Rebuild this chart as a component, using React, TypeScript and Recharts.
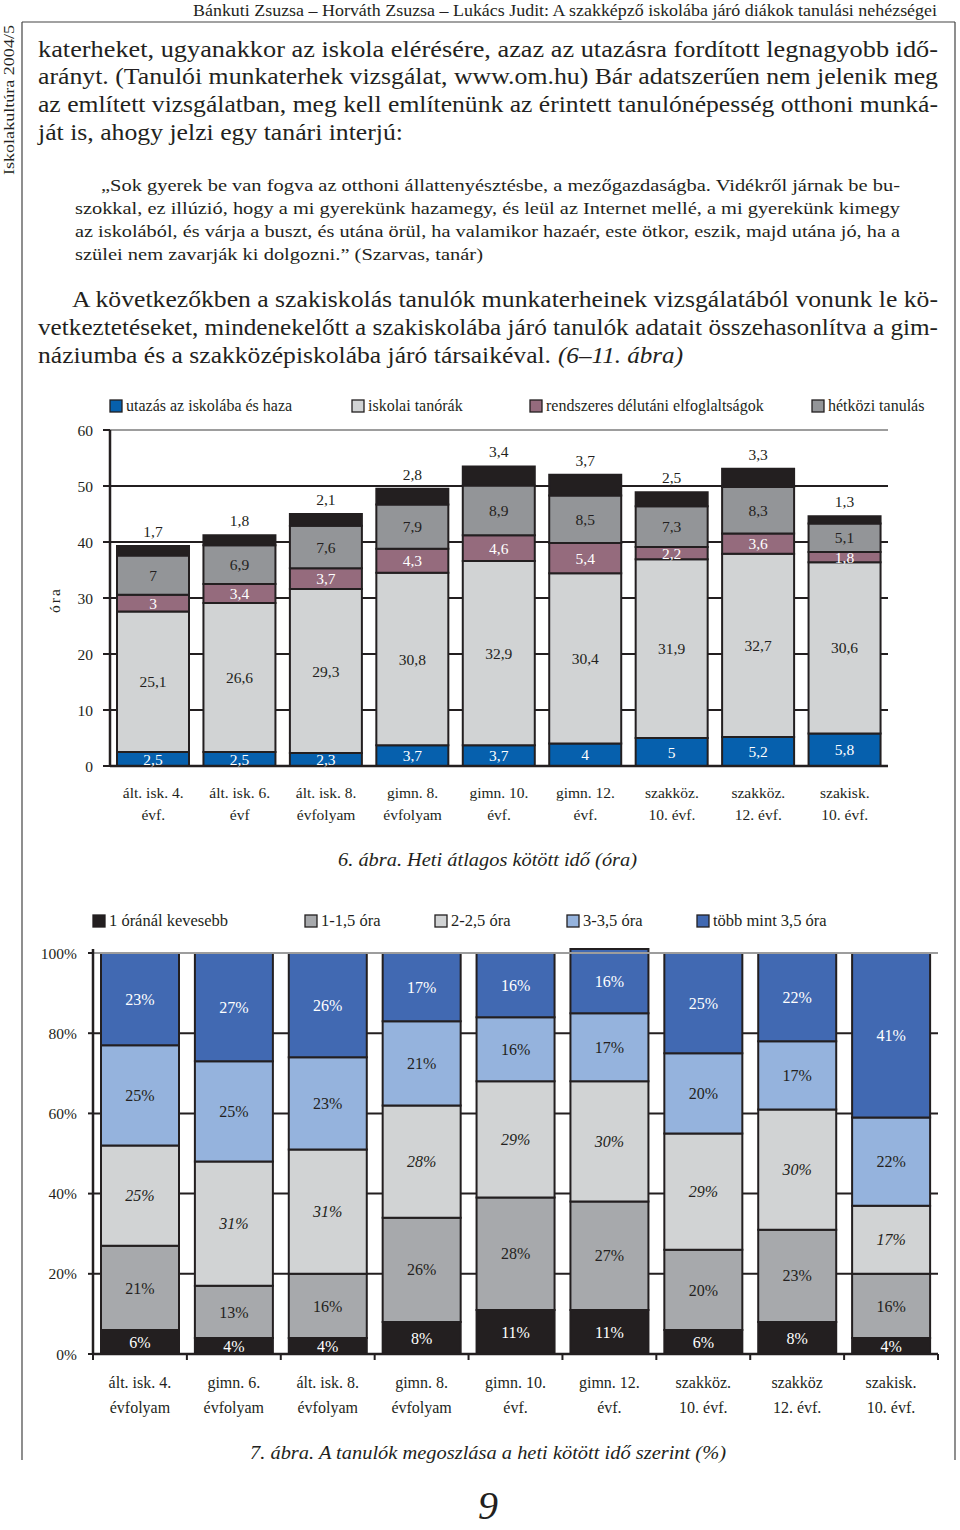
import React from "react";
import {
  BarChart,
  Bar,
  XAxis,
  YAxis,
  CartesianGrid,
  LabelList,
  ReferenceLine,
} from "recharts";

const SERIF = '"Liberation Serif", "Times New Roman", Times, serif';
const INK = "#231f20";
const BORDER = "#9d9d9d";

// 6. ábra – heti átlagos kötött idő (óra)
const kat6 = [
  "ált. isk. 4.|évf.",
  "ált. isk. 6.|évf",
  "ált. isk. 8.|évfolyam",
  "gimn. 8.|évfolyam",
  "gimn. 10.|évf.",
  "gimn. 12.|évf.",
  "szakköz.|10. évf.",
  "szakköz.|12. évf.",
  "szakisk.|10. évf.",
];
const utazas = [2.5, 2.5, 2.3, 3.7, 3.7, 4, 5, 5.2, 5.8];
const tanorak = [25.1, 26.6, 29.3, 30.8, 32.9, 30.4, 31.9, 32.7, 30.6];
const delutani = [3, 3.4, 3.7, 4.3, 4.6, 5.4, 2.2, 3.6, 1.8];
const hetkozi = [7, 6.9, 7.6, 7.9, 8.9, 8.5, 7.3, 8.3, 5.1];
const egyeb = [1.7, 1.8, 2.1, 2.8, 3.4, 3.7, 2.5, 3.3, 1.3];
const ticks6 = [0, 10, 20, 30, 40, 50, 60];
const nevek6 = [
  "utazás az iskolába és haza",
  "iskolai tanórák",
  "rendszeres délutáni elfoglaltságok",
  "hétközi tanulás",
];

// 7. ábra – a tanulók megoszlása a heti kötött idő szerint (%)
const kat7 = [
  "ált. isk. 4.|évfolyam",
  "gimn. 6.|évfolyam",
  "ált. isk. 8.|évfolyam",
  "gimn. 8.|évfolyam",
  "gimn. 10.|évf.",
  "gimn. 12.|évf.",
  "szakköz.|10. évf.",
  "szakköz|12. évf.",
  "szakisk.|10. évf.",
];
const kevesebb1 = [6, 4, 4, 8, 11, 11, 6, 8, 4];
const ora1 = [21, 13, 16, 26, 28, 27, 20, 23, 16];
const ora2 = [25, 31, 31, 28, 29, 30, 29, 30, 17];
const ora3 = [25, 25, 23, 21, 16, 17, 20, 17, 22];
const tobb35 = [23, 27, 26, 17, 16, 16, 25, 22, 41];
const ticks7 = [0, 20, 40, 60, 80, 100];
const nevek7 = [
  "1 óránál kevesebb",
  "1-1,5 óra",
  "2-2,5 óra",
  "3-3,5 óra",
  "több mint 3,5 óra",
];

const c6 = ["#0660ad", "#d1d3d4", "#956b7d", "#939598", INK];
const c7 = [INK, "#a7a9ac", "#d1d3d4", "#95b3dd", "#4169b2"];

const komma = (v: any) => String(v).replace(".", ",");
const szazalek = (v: any) => `${v}%`;

const TwoLine = (p: any) => {
  const { x, y, payload, index, d1, d2, size, band, marks, last } = p;
  const [a, b] = String(payload.value).split("|");
  return (
    <g>
      {marks && (
        <line x1={x - band / 2} x2={x - band / 2} y1={y} y2={y + 6} stroke={INK} strokeWidth={2} />
      )}
      {marks && index === last && (
        <line x1={x + band / 2} x2={x + band / 2} y1={y} y2={y + 6} stroke={INK} strokeWidth={2} />
      )}
      <text x={x} y={y + d1} textAnchor="middle" fontFamily={SERIF} fontSize={size} fill={INK}>
        {a}
      </text>
      <text x={x} y={y + d2} textAnchor="middle" fontFamily={SERIF} fontSize={size} fill={INK}>
        {b}
      </text>
    </g>
  );
};

function Chart6() {
  const data = kat6.map((name, i) => ({
    name,
    utazas: utazas[i],
    tanorak: tanorak[i],
    delutani: delutani[i],
    hetkozi: hetkozi[i],
    egyeb: egyeb[i],
  }));
  const lbl = { fontFamily: SERIF, fontSize: 15.5 };
  const bar = { stackId: "a", stroke: INK, strokeWidth: 2, isAnimationActive: false };
  return (
    <div style={{ position: "absolute", left: 0, top: 380 }}>
      <BarChart
        width={960}
        height={460}
        data={data}
        margin={{ top: 50, right: 72, bottom: 14, left: 50 }}
        barSize={72}
      >
        <CartesianGrid vertical={false} stroke={INK} strokeWidth={2} horizontalValues={[10, 20, 30, 40, 50]} />
        <ReferenceLine y={60} stroke={BORDER} strokeWidth={2} />
        <XAxis
          dataKey="name"
          height={60}
          interval={0}
          tickLine={false}
          tickSize={0}
          tickMargin={0}
          axisLine={{ stroke: INK, strokeWidth: 2.5 }}
          tick={(p: any) => <TwoLine {...p} d1={32} d2={54} size={15.5} />}
        />
        <YAxis
          domain={[0, 60]}
          ticks={ticks6}
          width={60}
          tickSize={7}
          tickMargin={10}
          axisLine={{ stroke: INK, strokeWidth: 2.5 }}
          tickLine={{ stroke: INK, strokeWidth: 2 }}
          tick={{ fill: INK, fontSize: 15.5, fontFamily: SERIF }}
        />
        <YAxis
          yAxisId="r"
          orientation="right"
          width={0}
          domain={[0, 60]}
          tick={false}
          tickLine={false}
          axisLine={{ stroke: BORDER, strokeWidth: 2 }}
        />
        <Bar dataKey="utazas" name={nevek6[0]} fill={c6[0]} {...bar}>
          <LabelList dataKey="utazas" position="center" formatter={komma} fill="#fff" stroke="none" style={lbl} />
        </Bar>
        <Bar dataKey="tanorak" name={nevek6[1]} fill={c6[1]} {...bar}>
          <LabelList dataKey="tanorak" position="center" formatter={komma} fill={INK} stroke="none" style={lbl} />
        </Bar>
        <Bar dataKey="delutani" name={nevek6[2]} fill={c6[2]} {...bar}>
          <LabelList dataKey="delutani" position="center" formatter={komma} fill="#fff" stroke="none" style={lbl} />
        </Bar>
        <Bar dataKey="hetkozi" name={nevek6[3]} fill={c6[3]} {...bar}>
          <LabelList dataKey="hetkozi" position="center" formatter={komma} fill={INK} stroke="none" style={lbl} />
        </Bar>
        <Bar dataKey="egyeb" fill={c6[4]} {...bar}>
          <LabelList dataKey="egyeb" position="top" offset={9} formatter={komma} fill={INK} stroke="none" style={lbl} />
        </Bar>
      </BarChart>
    </div>
  );
}

function Chart7() {
  const data = kat7.map((name, i) => ({
    name,
    k1: kevesebb1[i],
    o1: ora1[i],
    o2: ora2[i],
    o3: ora3[i],
    t: tobb35[i],
  }));
  const lbl = { fontFamily: SERIF, fontSize: 16 };
  const bar = { stackId: "a", stroke: INK, strokeWidth: 2, isAnimationActive: false };
  const band = (960 - 22 - 93) / kat7.length;
  return (
    <div style={{ position: "absolute", left: 0, top: 930 }}>
      <BarChart
        width={960}
        height={510}
        data={data}
        margin={{ top: 19, right: 22, bottom: 16, left: 33 }}
        barSize={78}
      >
        <CartesianGrid vertical={false} stroke={INK} strokeWidth={2} horizontalValues={[20, 40, 60, 80]} />
        <ReferenceLine y={100} stroke={BORDER} strokeWidth={2} />
        <XAxis
          dataKey="name"
          height={70}
          interval={0}
          tickLine={false}
          tickSize={0}
          tickMargin={0}
          axisLine={{ stroke: INK, strokeWidth: 2.5 }}
          tick={(p: any) => (
            <TwoLine {...p} d1={34} d2={59} size={16} band={band} marks last={kat7.length - 1} />
          )}
        />
        <YAxis
          domain={[0, 101]}
          ticks={ticks7}
          width={60}
          tickSize={5}
          tickMargin={11}
          tickFormatter={szazalek}
          axisLine={{ stroke: INK, strokeWidth: 2.5 }}
          tickLine={{ stroke: INK, strokeWidth: 2 }}
          tick={{ fill: INK, fontSize: 15.5, fontFamily: SERIF }}
        />
        <YAxis
          yAxisId="r"
          orientation="right"
          width={0}
          domain={[0, 101]}
          tick={false}
          tickLine={false}
          axisLine={{ stroke: BORDER, strokeWidth: 2 }}
        />
        <Bar dataKey="k1" name={nevek7[0]} fill={c7[0]} {...bar}>
          <LabelList dataKey="k1" position="center" formatter={szazalek} fill="#fff" stroke="none" style={lbl} />
        </Bar>
        <Bar dataKey="o1" name={nevek7[1]} fill={c7[1]} {...bar}>
          <LabelList dataKey="o1" position="center" formatter={szazalek} fill={INK} stroke="none" style={lbl} />
        </Bar>
        <Bar dataKey="o2" name={nevek7[2]} fill={c7[2]} {...bar}>
          <LabelList
            dataKey="o2"
            position="center"
            formatter={szazalek}
            fill={INK}
            stroke="none"
            style={{ ...lbl, fontStyle: "italic" }}
          />
        </Bar>
        <Bar dataKey="o3" name={nevek7[3]} fill={c7[3]} {...bar}>
          <LabelList dataKey="o3" position="center" formatter={szazalek} fill={INK} stroke="none" style={lbl} />
        </Bar>
        <Bar dataKey="t" name={nevek7[4]} fill={c7[4]} {...bar}>
          <LabelList dataKey="t" position="center" formatter={szazalek} fill="#fff" stroke="none" style={lbl} />
        </Bar>
      </BarChart>
    </div>
  );
}

const T = ({ x, y, w, size, italic, anchor, children }: any) => (
  <text
    x={x}
    y={y}
    textLength={w}
    lengthAdjust={w ? "spacingAndGlyphs" : undefined}
    fontSize={size}
    fontFamily={SERIF}
    fontStyle={italic ? "italic" : undefined}
    textAnchor={anchor}
    fill={INK}
  >
    {children}
  </text>
);

const Legend = ({ names, colors, xs, y, size }: any) => (
  <g>
    {names.map((n: string, i: number) => (
      <g key={n}>
        <rect x={xs[i]} y={y - 6} width={12} height={12} fill={colors[i]} stroke={INK} strokeWidth={1.3} />
        <text x={xs[i] + 16} y={y + 5} fontSize={size} fontFamily={SERIF} fill={INK}>
          {n}
        </text>
      </g>
    ))}
  </g>
);

function Page() {
  return (
    <svg width={960} height={1530} style={{ position: "absolute", left: 0, top: 0 }}>
      {/* keret */}
      <line x1={22} x2={955} y1={22} y2={22} stroke="#444" strokeWidth={1.2} />
      <line x1={22} x2={22} y1={22} y2={1460} stroke="#444" strokeWidth={1.2} />
      <line x1={955} x2={955} y1={22} y2={1460} stroke="#444" strokeWidth={1.2} />
      <g transform="translate(14,100) rotate(-90)">
        <text x={0} y={0} textAnchor="middle" fontSize={15} fontFamily={SERIF} fill={INK} textLength={150} lengthAdjust="spacingAndGlyphs">
          Iskolakultúra 2004/5
        </text>
      </g>
      <T x={193} y={16} w={744} size={17}>
        Bánkuti Zsuzsa – Horváth Zsuzsa – Lukács Judit: A szakképző iskolába járó diákok tanulási nehézségei
      </T>

      {/* szöveg */}
      <T x={38} y={57} w={900} size={23}>
        katerheket, ugyanakkor az iskola elérésére, azaz az utazásra fordított legnagyobb idő-
      </T>
      <T x={38} y={84} w={900} size={23}>
        arányt. (Tanulói munkaterhek vizsgálat, www.om.hu)  Bár adatszerűen nem jelenik meg
      </T>
      <T x={38} y={112} w={900} size={23}>
        az említett vizsgálatban, meg kell említenünk az érintett tanulónépesség otthoni munká-
      </T>
      <T x={38} y={140} w={365} size={23}>
        ját is, ahogy jelzi egy tanári interjú:
      </T>

      <T x={101} y={191} w={799} size={17.5}>
        „Sok gyerek be van fogva az otthoni állattenyésztésbe, a mezőgazdaságba. Vidékről járnak be bu-
      </T>
      <T x={75} y={214} w={825} size={17.5}>
        szokkal, ez illúzió, hogy a mi gyerekünk hazamegy, és leül az Internet mellé, a mi gyerekünk kimegy
      </T>
      <T x={75} y={237} w={825} size={17.5}>
        az iskolából, és várja a buszt, és utána örül, ha valamikor hazaér, este ötkor, eszik, majd utána jó, ha a
      </T>
      <T x={75} y={260} w={408} size={17.5}>
        szülei nem zavarják ki dolgozni.” (Szarvas, tanár)
      </T>

      <T x={72} y={307} w={866} size={23}>
        A következőkben a szakiskolás tanulók munkaterheinek vizsgálatából vonunk le kö-
      </T>
      <T x={38} y={335} w={900} size={23}>
        vetkeztetéseket, mindenekelőtt a szakiskolába járó tanulók adatait összehasonlítva a gim-
      </T>
      <T x={38} y={363} w={513} size={23}>
        náziumba és a szakközépiskolába járó társaikéval.
      </T>
      <T x={558} y={363} w={125} size={23} italic>
        (6–11. ábra)
      </T>

      {/* 6. ábra */}
      <Legend names={nevek6} colors={c6} xs={[110, 352, 530, 812]} y={406} size={16} />
      <g transform="translate(60,600) rotate(-90)">
        <text x={0} y={0} textAnchor="middle" fontSize={15.5} fontFamily={SERIF} fill={INK} letterSpacing={2}>
          óra
        </text>
      </g>
      <T x={338} y={866} w={299} size={19} italic>
        6. ábra. Heti átlagos kötött idő (óra)
      </T>

      {/* 7. ábra */}
      <Legend names={nevek7} colors={c7} xs={[93, 305, 435, 567, 697]} y={921} size={16.5} />
      <T x={250} y={1459} w={476} size={19} italic>
        7. ábra. A tanulók megoszlása a heti kötött idő szerint (%)
      </T>

      <text x={488} y={1519} textAnchor="middle" fontSize={40} fontStyle="italic" fontFamily={SERIF} fill={INK}>
        9
      </text>
    </svg>
  );
}

export default function App() {
  return (
    <div style={{ position: "absolute", left: 0, top: 0, width: 960, height: 1530, background: "#fff" }}>
      <Page />
      <Chart6 />
      <Chart7 />
    </div>
  );
}
